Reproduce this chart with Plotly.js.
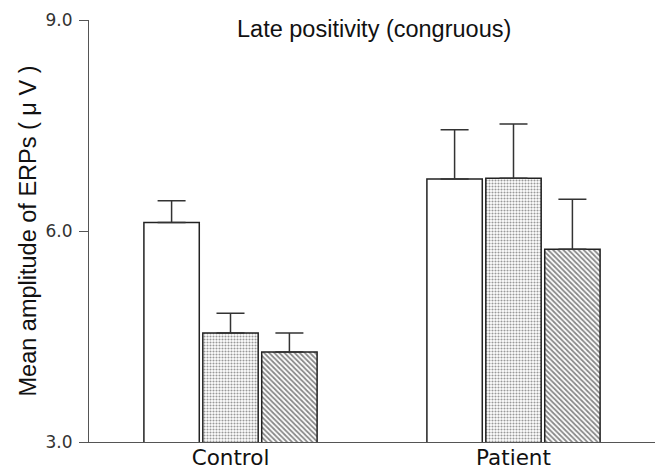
<!DOCTYPE html>
<html>
<head>
<meta charset="utf-8">
<script src="https://cdn.plot.ly/plotly-3.0.1.min.js"></script>
<style>html,body{margin:0;padding:0;background:#fff;}#chart{width:657px;height:472px;}</style>
</head>
<body>
<div id="chart"></div>
<script>
var groups = ["Control", "Patient"];
var seriesA = [6.12, 6.74];
var errA = [0.31, 0.70];
var seriesB = [4.55, 6.75];
var errB = [0.28, 0.77];
var seriesC = [4.28, 5.74];
var errC = [0.27, 0.71];
var yTicks = [3, 6, 9];
var titleText = "Late positivity (congruous)";
var yTitleText = "Mean amplitude of ERPs ( \u03bc V )";

function makeTrace(name, vals, errs, pattern) {
  return {
    type: "bar",
    name: name,
    x: groups,
    y: vals,
    error_y: {type: "data", array: errs, arrayminus: errs.map(function(){return 0;}), symmetric: false,
              color: "#333", thickness: 1.5, width: 14},
    marker: {
      color: "#ffffff",
      line: {color: "#222", width: 1.5},
      pattern: pattern
    },
    hoverinfo: "x+y"
  };
}

var data = [
  makeTrace("A", seriesA, errA, {shape: ""}),
  makeTrace("B", seriesB, errB, {shape: ".", size: 3, solidity: 0.4, fgcolor: "#333", bgcolor: "#fff", fillmode: "overlay"}),
  makeTrace("C", seriesC, errC, {shape: "\\", size: 3.6, solidity: 0.5, fgcolor: "#111", bgcolor: "#fff", fillmode: "overlay"})
];

var layout = {
  width: 657, height: 472,
  margin: {l: 88.5, r: 1.5, t: 20, b: 30},
  paper_bgcolor: "#fff", plot_bgcolor: "#fff",
  showlegend: false,
  barmode: "group",
  bargap: 0.3755,
  bargroupgap: 0.06,
  font: {family: "Liberation Sans, Arial, sans-serif", color: "#111"},
  xaxis: {
    type: "category",
    range: [-0.5, 1.5],
    showline: true, linecolor: "#555", linewidth: 1,
    ticks: "", showgrid: false, zeroline: false,
    tickfont: {family: "DejaVu Sans", size: 21.5, color: "#111"},
    ticklabelstandoff: -4
  },
  yaxis: {
    range: [3, 9],
    tickvals: yTicks,
    tickformat: ".1f",
    showline: true, linecolor: "#555", linewidth: 1,
    ticks: "outside", ticklen: 9, tickcolor: "#555", tickwidth: 1,
    showgrid: false, zeroline: false,
    tickfont: {family: "DejaVu Sans", size: 17, color: "#333"},
    ticklabelstandoff: 3,
    title: {text: yTitleText, font: {family: "Liberation Sans, Arial", size: 23.5, color: "#111"}, standoff: 2}
  },
  annotations: [{
    text: titleText, xref: "paper", yref: "paper", x: 0.504, y: 0.979,
    xanchor: "center", yanchor: "middle", showarrow: false,
    font: {family: "Liberation Sans, Arial", size: 23.5, color: "#111"}
  }]
};

Plotly.newPlot("chart", data, layout, {displayModeBar: false, staticPlot: true});
</script>
</body>
</html>
